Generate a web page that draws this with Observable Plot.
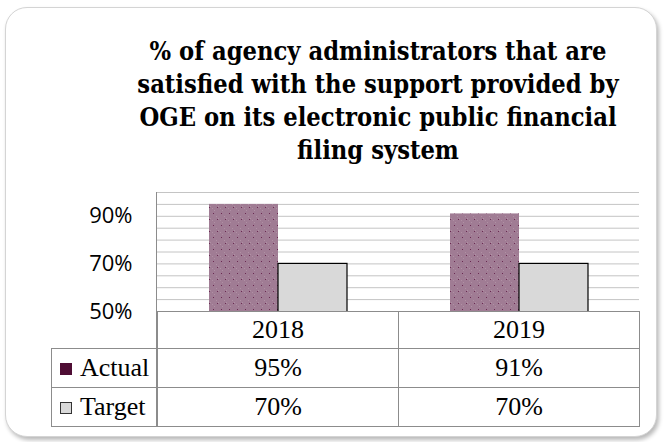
<!DOCTYPE html>
<html>
<head>
<meta charset="utf-8">
<script src="https://cdn.jsdelivr.net/npm/d3@7"></script>
<script src="https://cdn.jsdelivr.net/npm/@observablehq/plot@0.6"></script>
<style>
  html, body { margin: 0; padding: 0; background: #fff; }
  #page { position: relative; width: 664px; height: 442px; overflow: hidden; background: #fff; }
  #card { position: absolute; left: 5px; top: 7px; width: 650px; height: 428px;
          border: 1px solid #d4d4d4; border-radius: 22px;
          box-shadow: 2px 3px 4px rgba(0,0,0,0.28); background: #fff; }
  #title { position: absolute; left: 78px; width: 600px; top: 35px; text-align: center;
           font-weight: bold; line-height: 33px; color: #000; white-space: nowrap; }
  #chart { position: absolute; left: 0; top: 180px; }
  #leftline { position: absolute; left: 156px; top: 192px; width: 0; height: 234px; border-left: 1px solid #8c8c8c; }
  #tbl { position: absolute; left: 51px; top: 311px; border-collapse: collapse; table-layout: fixed; color: #000; }
  #tbl td { border: 1px solid #8c8c8c; text-align: center; padding: 0; white-space: nowrap; }
  #tbl td.key { text-align: left; padding-left: 8px; }
  #tbl td.blank { border-top: none; border-left: none; }
  .sw { display: inline-block; width: 12px; height: 12px; margin-right: 8px; vertical-align: 1px; box-sizing: border-box; }
</style>
</head>
<body>
<div id="page">
  <div id="card"></div>
  <div id="title"></div>
  <div id="chart"></div>
  <div id="leftline"></div>
  <table id="tbl"></table>
</div>
<script>
const titleLines = ["% of agency administrators that are", "satisfied with the support provided by", "OGE on its electronic public financial", "filing system"];
const years = ["2018", "2019"];
const series = ["Actual", "Target"];
const actual = [95, 91];
const target = [70, 70];
const yTicks = [50, 70, 90];
const gridTicks = [50, 55, 60, 65, 70, 75, 80, 85, 90, 95, 100];
const seriesColors = { Actual: "#a07c94", Target: "#d9d9d9" };
const keyColors = { Actual: "#4e0d34", Target: "#d9d9d9" };

// title: fit first line to the reference's line width
const titleFont = "'DejaVu Serif Condensed'";
const ctx = document.createElement("canvas").getContext("2d");
ctx.font = `bold 24px ${titleFont}`;
const w1 = ctx.measureText(titleLines[0]).width;
const titleSize = Math.max(20, Math.min(28, 24 * 457 / w1));
const titleEl = document.getElementById("title");
titleEl.style.fontFamily = titleFont;
titleEl.style.fontSize = titleSize + "px";
titleEl.innerHTML = titleLines.join("<br>");

const rows = years.flatMap((yr, i) => [
  { year: yr, series: "Actual", value: actual[i] },
  { year: yr, series: "Target", value: target[i] }
]);

const plot = Plot.plot({
  width: 664,
  height: 146,
  marginLeft: 157,
  marginRight: 25,
  marginTop: 12,
  marginBottom: 15,
  style: { background: "transparent", fontFamily: "'Open Sans'", fontSize: "22px", color: "#000" },
  fx: { axis: null, domain: years, padding: 0 },
  x: { axis: null, domain: series, paddingInner: 0, paddingOuter: 0.734 },
  y: { domain: [50, 100], axis: null },
  marks: [
    Plot.gridY(gridTicks, { stroke: "#c4c4c4", strokeOpacity: 1 }),
    Plot.barY(rows.filter(d => d.series === "Actual"), { fx: "year", x: "series", y: "value", fill: "url(#dotpat)", clip: true }),
    Plot.barY(rows.filter(d => d.series === "Target"), { fx: "year", x: "series", y: "value", fill: seriesColors.Target, stroke: "#000", strokeWidth: 1.2, clip: true }),
    Plot.axisY(yTicks, { tickSize: 0, tickPadding: 25, tickFormat: d => d + "%", fill: "#000", label: null }),
    Plot.ruleY([50], { stroke: "#8c8c8c" })
  ]
});

// dotted pattern for Actual bars
const ns = "http://www.w3.org/2000/svg";
const defs = document.createElementNS(ns, "defs");
defs.innerHTML = `<pattern id="dotpat" patternUnits="userSpaceOnUse" width="8" height="12">
  <rect width="8" height="12" fill="${seriesColors.Actual}"/>
  <rect x="0" y="0" width="1" height="1" fill="#b090a4"/>
  <rect x="2" y="2" width="1" height="1" fill="#b090a4"/>
  <rect x="4" y="4" width="1" height="1" fill="#b090a4"/>
  <rect x="6" y="6" width="1" height="1" fill="#b090a4"/>
  <rect x="1" y="3" width="1" height="1" fill="#6a2a52"/>
  <rect x="5" y="9" width="1" height="1" fill="#6a2a52"/>
</pattern>`;
plot.insertBefore(defs, plot.firstChild);
document.getElementById("chart").appendChild(plot);

// data table
const tbl = document.getElementById("tbl");
tbl.style.fontFamily = "'Liberation Serif'";
tbl.style.fontSize = "26px";
const colW = [106, 241, 241];
const cg = document.createElement("colgroup");
colW.forEach(w => { const c = document.createElement("col"); c.style.width = w + "px"; cg.appendChild(c); });
tbl.appendChild(cg);
tbl.style.width = d3.sum(colW) + "px";
const head = tbl.insertRow();
head.style.height = "37px";
const blank = head.insertCell(); blank.className = "blank";
years.forEach(y => { head.insertCell().textContent = y; });
const values = { Actual: actual, Target: target };
series.forEach(s => {
  const r = tbl.insertRow();
  r.style.height = "39px";
  const k = r.insertCell();
  k.className = "key";
  const sw = document.createElement("span");
  sw.className = "sw";
  sw.style.background = keyColors[s];
  if (s === "Target") sw.style.border = "1px solid #333";
  k.appendChild(sw);
  k.appendChild(document.createTextNode(s));
  values[s].forEach(v => { r.insertCell().textContent = v + "%"; });
});
</script>
</body>
</html>
